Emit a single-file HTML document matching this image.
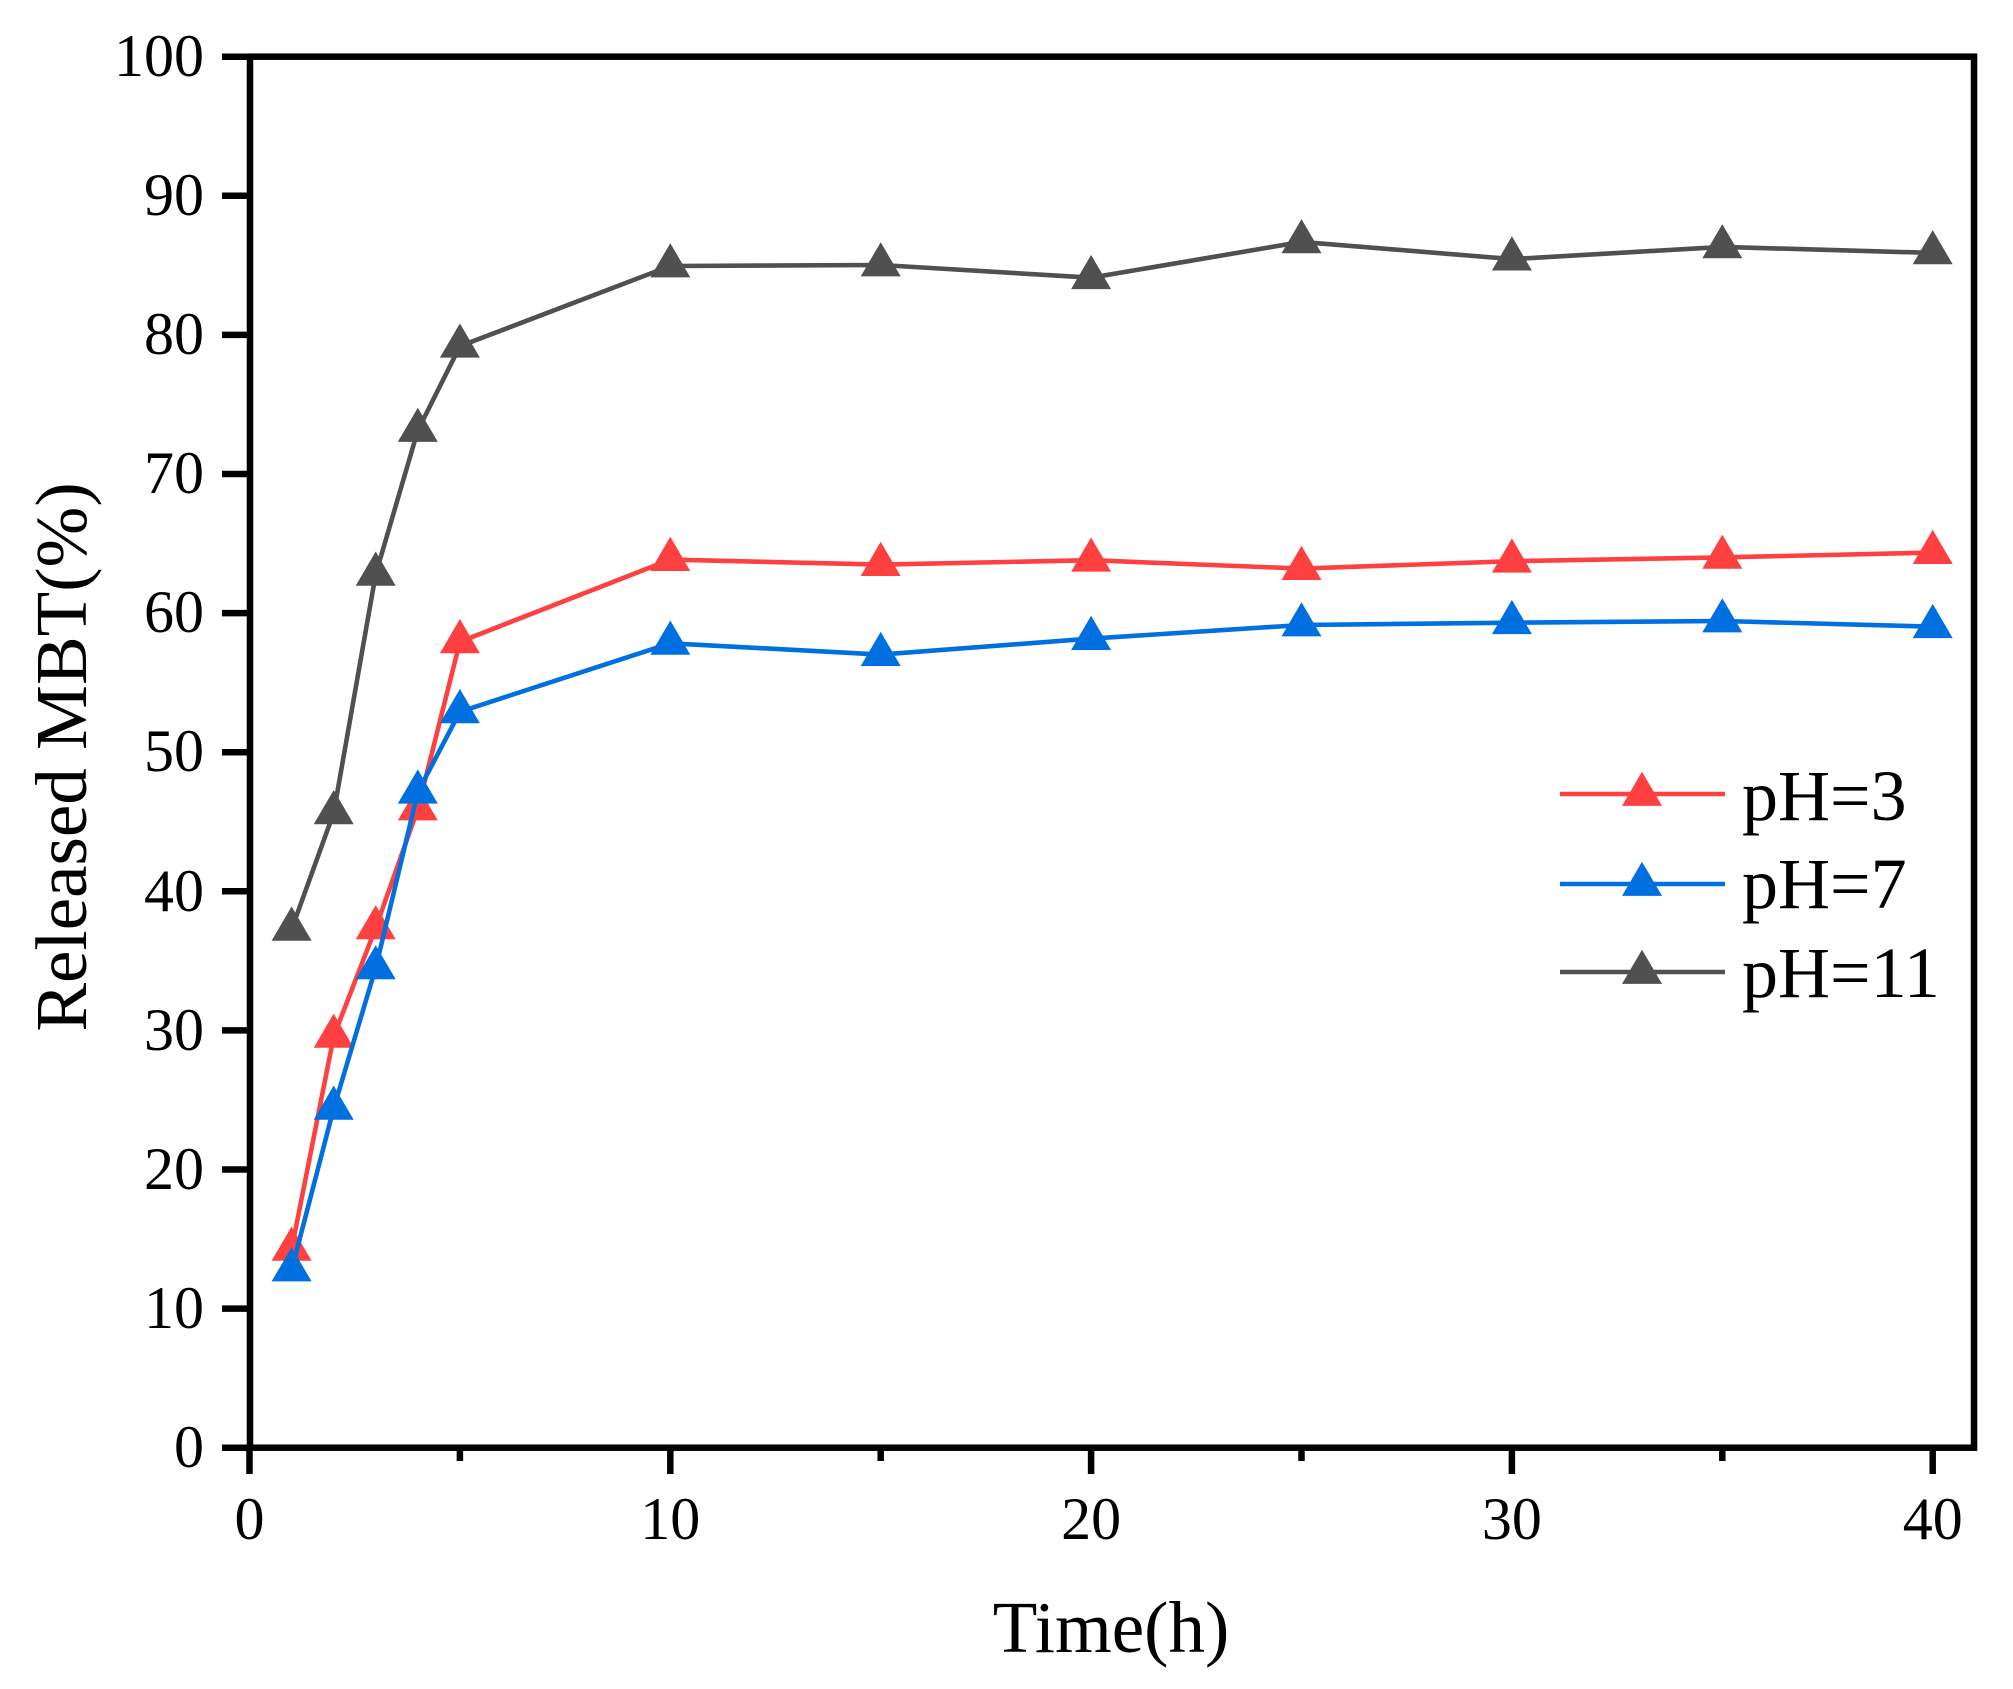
<!DOCTYPE html>
<html>
<head>
<meta charset="utf-8">
<style>
  html, body { margin: 0; padding: 0; background: #ffffff; }
  svg { display: block; }
  text { font-family: "Liberation Serif", "Times New Roman", serif; fill: #000; }
</style>
</head>
<body>
<svg width="2013" height="1689" viewBox="0 0 2013 1689" xmlns="http://www.w3.org/2000/svg">
  <rect x="0" y="0" width="2013" height="1689" fill="#ffffff"/>

  <!-- Series: pH=11 (gray) -->
  <g>
    <polyline fill="none" stroke="#505050" stroke-width="4.6" stroke-linejoin="round"
      points="291.6,929.3 333.7,812.8 375.7,574.3 417.8,430.5 459.9,346.2 670.3,266 880.7,265 1091.1,277.7 1301.5,241.9 1511.9,259.1 1722.3,246.9 1932.7,252.9"/>
    <g fill="#505050">
      <path transform="translate(291.6,929.3)" d="M0-22.8L20 11.4H-20Z"/>
      <path transform="translate(333.7,812.8)" d="M0-22.8L20 11.4H-20Z"/>
      <path transform="translate(375.7,574.3)" d="M0-22.8L20 11.4H-20Z"/>
      <path transform="translate(417.8,430.5)" d="M0-22.8L20 11.4H-20Z"/>
      <path transform="translate(459.9,346.2)" d="M0-22.8L20 11.4H-20Z"/>
      <path transform="translate(670.3,266)" d="M0-22.8L20 11.4H-20Z"/>
      <path transform="translate(880.7,265)" d="M0-22.8L20 11.4H-20Z"/>
      <path transform="translate(1091.1,277.7)" d="M0-22.8L20 11.4H-20Z"/>
      <path transform="translate(1301.5,241.9)" d="M0-22.8L20 11.4H-20Z"/>
      <path transform="translate(1511.9,259.1)" d="M0-22.8L20 11.4H-20Z"/>
      <path transform="translate(1722.3,246.9)" d="M0-22.8L20 11.4H-20Z"/>
      <path transform="translate(1932.7,252.9)" d="M0-22.8L20 11.4H-20Z"/>
    </g>
  </g>

  <!-- Series: pH=3 (red) -->
  <g>
    <polyline fill="none" stroke="#FF4040" stroke-width="4.6" stroke-linejoin="round"
      points="291.6,1249.3 333.7,1036.4 375.7,927.9 417.8,809 459.9,641.8 670.3,559.6 880.7,564.6 1091.1,560.2 1301.5,568.6 1511.9,561.2 1722.3,557.4 1932.7,552.6"/>
    <g fill="#FF4040">
      <path transform="translate(291.6,1249.3)" d="M0-22.8L20 11.4H-20Z"/>
      <path transform="translate(333.7,1036.4)" d="M0-22.8L20 11.4H-20Z"/>
      <path transform="translate(375.7,927.9)" d="M0-22.8L20 11.4H-20Z"/>
      <path transform="translate(417.8,809)" d="M0-22.8L20 11.4H-20Z"/>
      <path transform="translate(459.9,641.8)" d="M0-22.8L20 11.4H-20Z"/>
      <path transform="translate(670.3,559.6)" d="M0-22.8L20 11.4H-20Z"/>
      <path transform="translate(880.7,564.6)" d="M0-22.8L20 11.4H-20Z"/>
      <path transform="translate(1091.1,560.2)" d="M0-22.8L20 11.4H-20Z"/>
      <path transform="translate(1301.5,568.6)" d="M0-22.8L20 11.4H-20Z"/>
      <path transform="translate(1511.9,561.2)" d="M0-22.8L20 11.4H-20Z"/>
      <path transform="translate(1722.3,557.4)" d="M0-22.8L20 11.4H-20Z"/>
      <path transform="translate(1932.7,552.6)" d="M0-22.8L20 11.4H-20Z"/>
    </g>
  </g>

  <!-- Series: pH=7 (blue) -->
  <g>
    <polyline fill="none" stroke="#0070E0" stroke-width="4.6" stroke-linejoin="round"
      points="291.6,1270 333.7,1108.3 375.7,967.9 417.8,792.2 459.9,711.8 670.3,643.3 880.7,654.6 1091.1,638.6 1301.5,625 1511.9,622.7 1722.3,621 1932.7,626.7"/>
    <g fill="#0070E0">
      <path transform="translate(291.6,1270)" d="M0-22.8L20 11.4H-20Z"/>
      <path transform="translate(333.7,1108.3)" d="M0-22.8L20 11.4H-20Z"/>
      <path transform="translate(375.7,967.9)" d="M0-22.8L20 11.4H-20Z"/>
      <path transform="translate(417.8,792.2)" d="M0-22.8L20 11.4H-20Z"/>
      <path transform="translate(459.9,711.8)" d="M0-22.8L20 11.4H-20Z"/>
      <path transform="translate(670.3,643.3)" d="M0-22.8L20 11.4H-20Z"/>
      <path transform="translate(880.7,654.6)" d="M0-22.8L20 11.4H-20Z"/>
      <path transform="translate(1091.1,638.6)" d="M0-22.8L20 11.4H-20Z"/>
      <path transform="translate(1301.5,625)" d="M0-22.8L20 11.4H-20Z"/>
      <path transform="translate(1511.9,622.7)" d="M0-22.8L20 11.4H-20Z"/>
      <path transform="translate(1722.3,621)" d="M0-22.8L20 11.4H-20Z"/>
      <path transform="translate(1932.7,626.7)" d="M0-22.8L20 11.4H-20Z"/>
    </g>
  </g>

  <!-- Axes frame -->
  <rect x="250" y="56.7" width="1724" height="1391" fill="none" stroke="#000" stroke-width="6.5"/>

  <!-- Y ticks -->
  <g stroke="#000" stroke-width="6.5">
    <line x1="222" y1="1447.7" x2="250" y2="1447.7"/>
    <line x1="222" y1="1308.6" x2="250" y2="1308.6"/>
    <line x1="222" y1="1169.5" x2="250" y2="1169.5"/>
    <line x1="222" y1="1030.4" x2="250" y2="1030.4"/>
    <line x1="222" y1="891.3" x2="250" y2="891.3"/>
    <line x1="222" y1="752.2" x2="250" y2="752.2"/>
    <line x1="222" y1="613.1" x2="250" y2="613.1"/>
    <line x1="222" y1="474.0" x2="250" y2="474.0"/>
    <line x1="222" y1="334.9" x2="250" y2="334.9"/>
    <line x1="222" y1="195.8" x2="250" y2="195.8"/>
    <line x1="222" y1="56.7" x2="250" y2="56.7"/>
  </g>

  <!-- X ticks -->
  <g stroke="#000" stroke-width="6.5">
    <line x1="249.5" y1="1447.7" x2="249.5" y2="1474"/>
    <line x1="670.3" y1="1447.7" x2="670.3" y2="1474"/>
    <line x1="1091.1" y1="1447.7" x2="1091.1" y2="1474"/>
    <line x1="1511.9" y1="1447.7" x2="1511.9" y2="1474"/>
    <line x1="1932.7" y1="1447.7" x2="1932.7" y2="1474"/>
    <line x1="459.9" y1="1447.7" x2="459.9" y2="1461"/>
    <line x1="880.7" y1="1447.7" x2="880.7" y2="1461"/>
    <line x1="1301.5" y1="1447.7" x2="1301.5" y2="1461"/>
    <line x1="1722.3" y1="1447.7" x2="1722.3" y2="1461"/>
  </g>

  <!-- Y tick labels -->
  <g font-size="60" text-anchor="end">
    <text x="204" y="1467">0</text>
    <text x="204" y="1328">10</text>
    <text x="204" y="1189">20</text>
    <text x="204" y="1050">30</text>
    <text x="204" y="911">40</text>
    <text x="204" y="771">50</text>
    <text x="204" y="632">60</text>
    <text x="204" y="493">70</text>
    <text x="204" y="354">80</text>
    <text x="204" y="215">90</text>
    <text x="204" y="76">100</text>
  </g>

  <!-- X tick labels -->
  <g font-size="60" text-anchor="middle">
    <text x="249.5" y="1539">0</text>
    <text x="670.3" y="1539">10</text>
    <text x="1091.1" y="1539">20</text>
    <text x="1511.9" y="1539">30</text>
    <text x="1932.7" y="1539">40</text>
  </g>

  <!-- Axis titles -->
  <text x="1111" y="1652" font-size="73" text-anchor="middle">Time(h)</text>
  <text transform="translate(86,757) rotate(-90)" x="0" y="0" font-size="73" text-anchor="middle">Released MBT(%)</text>

  <!-- Legend -->
  <g>
    <line x1="1560" y1="794" x2="1725" y2="794" stroke="#FF4040" stroke-width="4.6"/>
    <path transform="translate(1642,794.5)" d="M0-22.8L20 11.4H-20Z" fill="#FF4040"/>
    <text x="1742" y="820" font-size="72">pH=3</text>

    <line x1="1560" y1="884" x2="1725" y2="884" stroke="#0070E0" stroke-width="4.6"/>
    <path transform="translate(1642,884.5)" d="M0-22.8L20 11.4H-20Z" fill="#0070E0"/>
    <text x="1742" y="908" font-size="72">pH=7</text>

    <line x1="1560" y1="972" x2="1725" y2="972" stroke="#505050" stroke-width="4.6"/>
    <path transform="translate(1642,972.5)" d="M0-22.8L20 11.4H-20Z" fill="#505050"/>
    <text x="1742" y="997" font-size="72">pH=11</text>
  </g>
</svg>
</body>
</html>
